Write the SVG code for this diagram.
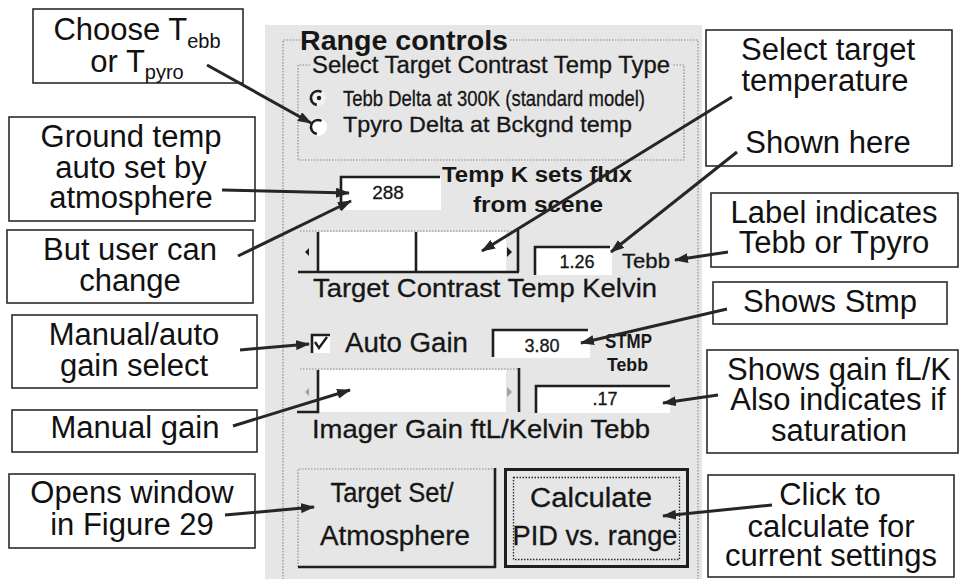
<svg xmlns="http://www.w3.org/2000/svg" width="960" height="579" viewBox="0 0 960 579">
  <style>
    .box { fill: #ffffff; stroke: #2b2b2b; stroke-width: 1.6; }
    .ct { font-family: "Liberation Sans", Arial, sans-serif; font-size: 31px; fill: #111; text-anchor: middle; }
    .sub { font-size: 20px; }
    .ui { font-family: "Liberation Sans", Arial, sans-serif; fill: #161616; stroke: #161616; stroke-width: 0.3; }
    .uib { font-family: "Liberation Sans", Arial, sans-serif; fill: #161616; font-weight: bold; }
    .etch { fill: none; stroke: #8a8a8a; stroke-width: 1.2; stroke-dasharray: 1.5 1.5; }
    .dark { fill: none; stroke: #1e1e1e; stroke-width: 2.6; }
    .field { fill: #ffffff; }
    .conn { fill: none; stroke: #262626; stroke-width: 3; marker-end: url(#head); }
  </style>
  <defs>
    <marker id="head" markerUnits="userSpaceOnUse" markerWidth="14" markerHeight="10" refX="13" refY="5" orient="auto">
      <path d="M0,0 L14,5 L0,10 z" fill="#262626"/>
    </marker>
  </defs>

  <rect width="960" height="579" fill="#ffffff"/>

  <!-- Dialog panel -->
  <g id="panel">
    <rect x="265" y="25" width="437" height="554" fill="#e6e6e6"/>
    <!-- outer group frame -->
    <path class="etch" d="M300,40 H283 V579 M510,40 H698 V579"/>
    <text class="uib" x="300" y="50" font-size="27" textLength="208" lengthAdjust="spacingAndGlyphs">Range controls</text>
    <!-- inner group frame -->
    <path class="etch" d="M310,65 H298 V160 H684 V65 H672"/>
    <text class="ui" x="312" y="73" font-size="23" textLength="358" lengthAdjust="spacingAndGlyphs">Select Target Contrast Temp Type</text>

    <!-- radio buttons -->
    <g id="radio-tebb">
      <circle cx="318" cy="98" r="8" fill="#f2f2f2"/>
      <path class="dark" stroke-width="2.2" d="M321.5,92 A7,7 0 1 0 316.8,104.9"/>
      <circle cx="319" cy="98" r="2.2" fill="#1e1e1e"/>
      <text class="ui" x="343" y="106" font-size="22" textLength="302" lengthAdjust="spacingAndGlyphs">Tebb Delta at 300K (standard model)</text>
    </g>
    <g id="radio-tpyro">
      <circle cx="318" cy="127" r="9" fill="#ffffff"/>
      <path class="dark" stroke-width="2.2" d="M321.5,121 A7,7 0 1 0 316.8,133.9"/>
      <text class="ui" x="343" y="132" font-size="22" textLength="289" lengthAdjust="spacingAndGlyphs">Tpyro Delta at Bckgnd temp</text>
    </g>

    <!-- ground temperature field -->
    <g id="field-temp">
      <rect class="field" x="341" y="177" width="100" height="33"/>
      <path class="dark" d="M341,210 V177 H440"/>
      <text class="ui" x="388" y="199" font-size="19" text-anchor="middle">288</text>
      <text class="uib" x="537" y="182" font-size="22" text-anchor="middle" textLength="190" lengthAdjust="spacingAndGlyphs">Temp K sets flux</text>
      <text class="uib" x="538" y="212" font-size="22" text-anchor="middle" textLength="130" lengthAdjust="spacingAndGlyphs">from scene</text>
    </g>

    <!-- target contrast scrollbar -->
    <g id="scroll-target">
      <rect class="field" x="318" y="232" width="188" height="40"/>
      <path class="etch" d="M300,231 H518"/>
      <path class="dark" d="M298,272 H519 M318,232 V272 M416,232 V272 M518,230 V272"/>
      <path d="M309,248 L305,252 L309,256 z" fill="#1e1e1e"/>
      <path d="M507,247 L512,252 L507,257 z" fill="#1e1e1e"/>
    </g>

    <!-- target contrast value -->
    <g id="field-contrast">
      <rect class="field" x="535" y="247" width="77" height="28"/>
      <path class="dark" d="M535,275 V247 H610"/>
      <text class="ui" x="577" y="268" font-size="18" text-anchor="middle">1.26</text>
      <text class="ui" x="622" y="268" font-size="21" textLength="48" lengthAdjust="spacingAndGlyphs">Tebb</text>
      <text class="ui" x="313" y="297" font-size="26" textLength="344" lengthAdjust="spacingAndGlyphs">Target Contrast Temp Kelvin</text>
    </g>

    <!-- auto gain checkbox -->
    <g id="check-gain">
      <rect class="field" x="312" y="335" width="18" height="18"/>
      <path class="dark" d="M312,353 V335 H330"/>
      <path d="M315,342 L319,348 L327,337" fill="none" stroke="#1e1e1e" stroke-width="2.4"/>
      <text class="ui" x="345" y="352" font-size="27" textLength="123" lengthAdjust="spacingAndGlyphs">Auto Gain</text>
    </g>

    <!-- STMP value -->
    <g id="field-stmp">
      <rect class="field" x="493" y="330" width="97" height="28"/>
      <path class="dark" d="M493,357 V330 H588"/>
      <text class="ui" x="542" y="352" font-size="18" text-anchor="middle">3.80</text>
      <text class="uib" x="605" y="348" font-size="20" textLength="47" lengthAdjust="spacingAndGlyphs">STMP</text>
      <text class="uib" x="607" y="371" font-size="19" textLength="41" lengthAdjust="spacingAndGlyphs">Tebb</text>
    </g>

    <!-- manual gain scrollbar -->
    <g id="scroll-gain">
      <rect class="field" x="318" y="370" width="188" height="42"/>
      <path class="etch" d="M300,369 H518"/>
      <path class="dark" d="M297,412 H318 V370 M519,368 V412"/>
      <path d="M309,388 L305,392 L309,396 z" fill="#a0a0a0"/>
      <path d="M507,387 L512,392 L507,397 z" fill="#a0a0a0"/>
    </g>

    <!-- gain value -->
    <g id="field-gain">
      <rect class="field" x="536" y="386" width="134" height="27"/>
      <path class="dark" d="M536,413 V386 H670"/>
      <text class="ui" x="605" y="405" font-size="18" text-anchor="middle">.17</text>
      <text class="ui" x="312" y="438" font-size="26" textLength="338" lengthAdjust="spacingAndGlyphs">Imager Gain ftL/Kelvin Tebb</text>
    </g>

    <!-- buttons -->
    <g id="btn-target">
      <path class="etch" d="M298,567 V469 H494"/>
      <path class="dark" stroke-width="3" d="M298,567 H496 M495,468 V568"/>
      <text class="ui" x="392" y="502" font-size="27" text-anchor="middle" textLength="123" lengthAdjust="spacingAndGlyphs">Target Set/</text>
      <text class="ui" x="395" y="545" font-size="27" text-anchor="middle" textLength="150" lengthAdjust="spacingAndGlyphs">Atmosphere</text>
    </g>
    <g id="btn-calculate">
      <rect x="505.5" y="469.5" width="182" height="97" fill="none" stroke="#1e1e1e" stroke-width="3"/>
      <rect x="513.5" y="477.5" width="166" height="82" fill="none" stroke="#2a2a2a" stroke-width="1.3" stroke-dasharray="1.5 1.5"/>
      <text class="ui" x="591" y="507" font-size="27" text-anchor="middle" textLength="122" lengthAdjust="spacingAndGlyphs">Calculate</text>
      <text class="ui" x="595" y="545" font-size="27" text-anchor="middle" textLength="165" lengthAdjust="spacingAndGlyphs">PID vs. range</text>
    </g>
  </g>

  <!-- Callout notes -->
  <g id="note-choose">
    <rect class="box" x="33" y="9" width="210" height="74"/>
    <text class="ct" x="137" y="40">Choose T<tspan class="sub" dy="8">ebb</tspan></text>
    <text class="ct" x="137" y="72">or T<tspan class="sub" dy="7">pyro</tspan></text>
  </g>
  <g id="note-ground">
    <rect class="box" x="9" y="117" width="246" height="104"/>
    <text class="ct" x="131" y="147">Ground temp</text>
    <text class="ct" x="131" y="178">auto set by</text>
    <text class="ct" x="131" y="208">atmosphere</text>
  </g>
  <g id="note-user">
    <rect class="box" x="7" y="230" width="246" height="73"/>
    <text class="ct" x="130" y="260">But user can</text>
    <text class="ct" x="130" y="291">change</text>
  </g>
  <g id="note-autogain">
    <rect class="box" x="12" y="315" width="245" height="73"/>
    <text class="ct" x="134" y="345">Manual/auto</text>
    <text class="ct" x="134" y="376">gain select</text>
  </g>
  <g id="note-manualgain">
    <rect class="box" x="12" y="410" width="245" height="42"/>
    <text class="ct" x="135" y="438">Manual gain</text>
  </g>
  <g id="note-opens">
    <rect class="box" x="9" y="474" width="246" height="74"/>
    <text class="ct" x="132" y="503">Opens window</text>
    <text class="ct" x="132" y="535">in Figure 29</text>
  </g>
  <g id="note-select">
    <rect class="box" x="706" y="30" width="246" height="136"/>
    <text class="ct" x="828" y="60">Select target</text>
    <text class="ct" x="825" y="91">temperature</text>
    <text class="ct" x="828" y="153">Shown here</text>
  </g>
  <g id="note-label">
    <rect class="box" x="711" y="193" width="247" height="74"/>
    <text class="ct" x="834" y="223">Label indicates</text>
    <text class="ct" x="834" y="253">Tebb or Tpyro</text>
  </g>
  <g id="note-stmp">
    <rect class="box" x="713" y="282" width="234" height="42"/>
    <text class="ct" x="830" y="312">Shows Stmp</text>
  </g>
  <g id="note-gain">
    <rect class="box" x="707" y="350" width="251" height="103"/>
    <text class="ct" x="839" y="380">Shows gain fL/K</text>
    <text class="ct" x="838" y="410">Also indicates if</text>
    <text class="ct" x="839" y="441">saturation</text>
  </g>
  <g id="note-click">
    <rect class="box" x="708" y="475" width="246" height="102"/>
    <text class="ct" x="830" y="505">Click to</text>
    <text class="ct" x="831" y="537">calculate for</text>
    <text class="ct" x="831" y="566">current settings</text>
  </g>

  <!-- Connectors -->
  <g id="connectors">
    <line class="conn" x1="207" y1="65" x2="311" y2="123"/>
    <line class="conn" x1="222" y1="190" x2="349" y2="193"/>
    <line class="conn" x1="238" y1="256" x2="351" y2="201"/>
    <line class="conn" x1="732" y1="97" x2="482" y2="251"/>
    <line class="conn" x1="737" y1="152" x2="611" y2="252"/>
    <line class="conn" x1="728" y1="252" x2="675" y2="260"/>
    <line class="conn" x1="727" y1="309" x2="581" y2="343"/>
    <line class="conn" x1="240" y1="350" x2="309" y2="344"/>
    <line class="conn" x1="233" y1="426" x2="350" y2="390"/>
    <line class="conn" x1="718" y1="395" x2="663" y2="403"/>
    <line class="conn" x1="225" y1="515" x2="314" y2="507"/>
    <line class="conn" x1="772" y1="505" x2="663" y2="516"/>
  </g>
</svg>
